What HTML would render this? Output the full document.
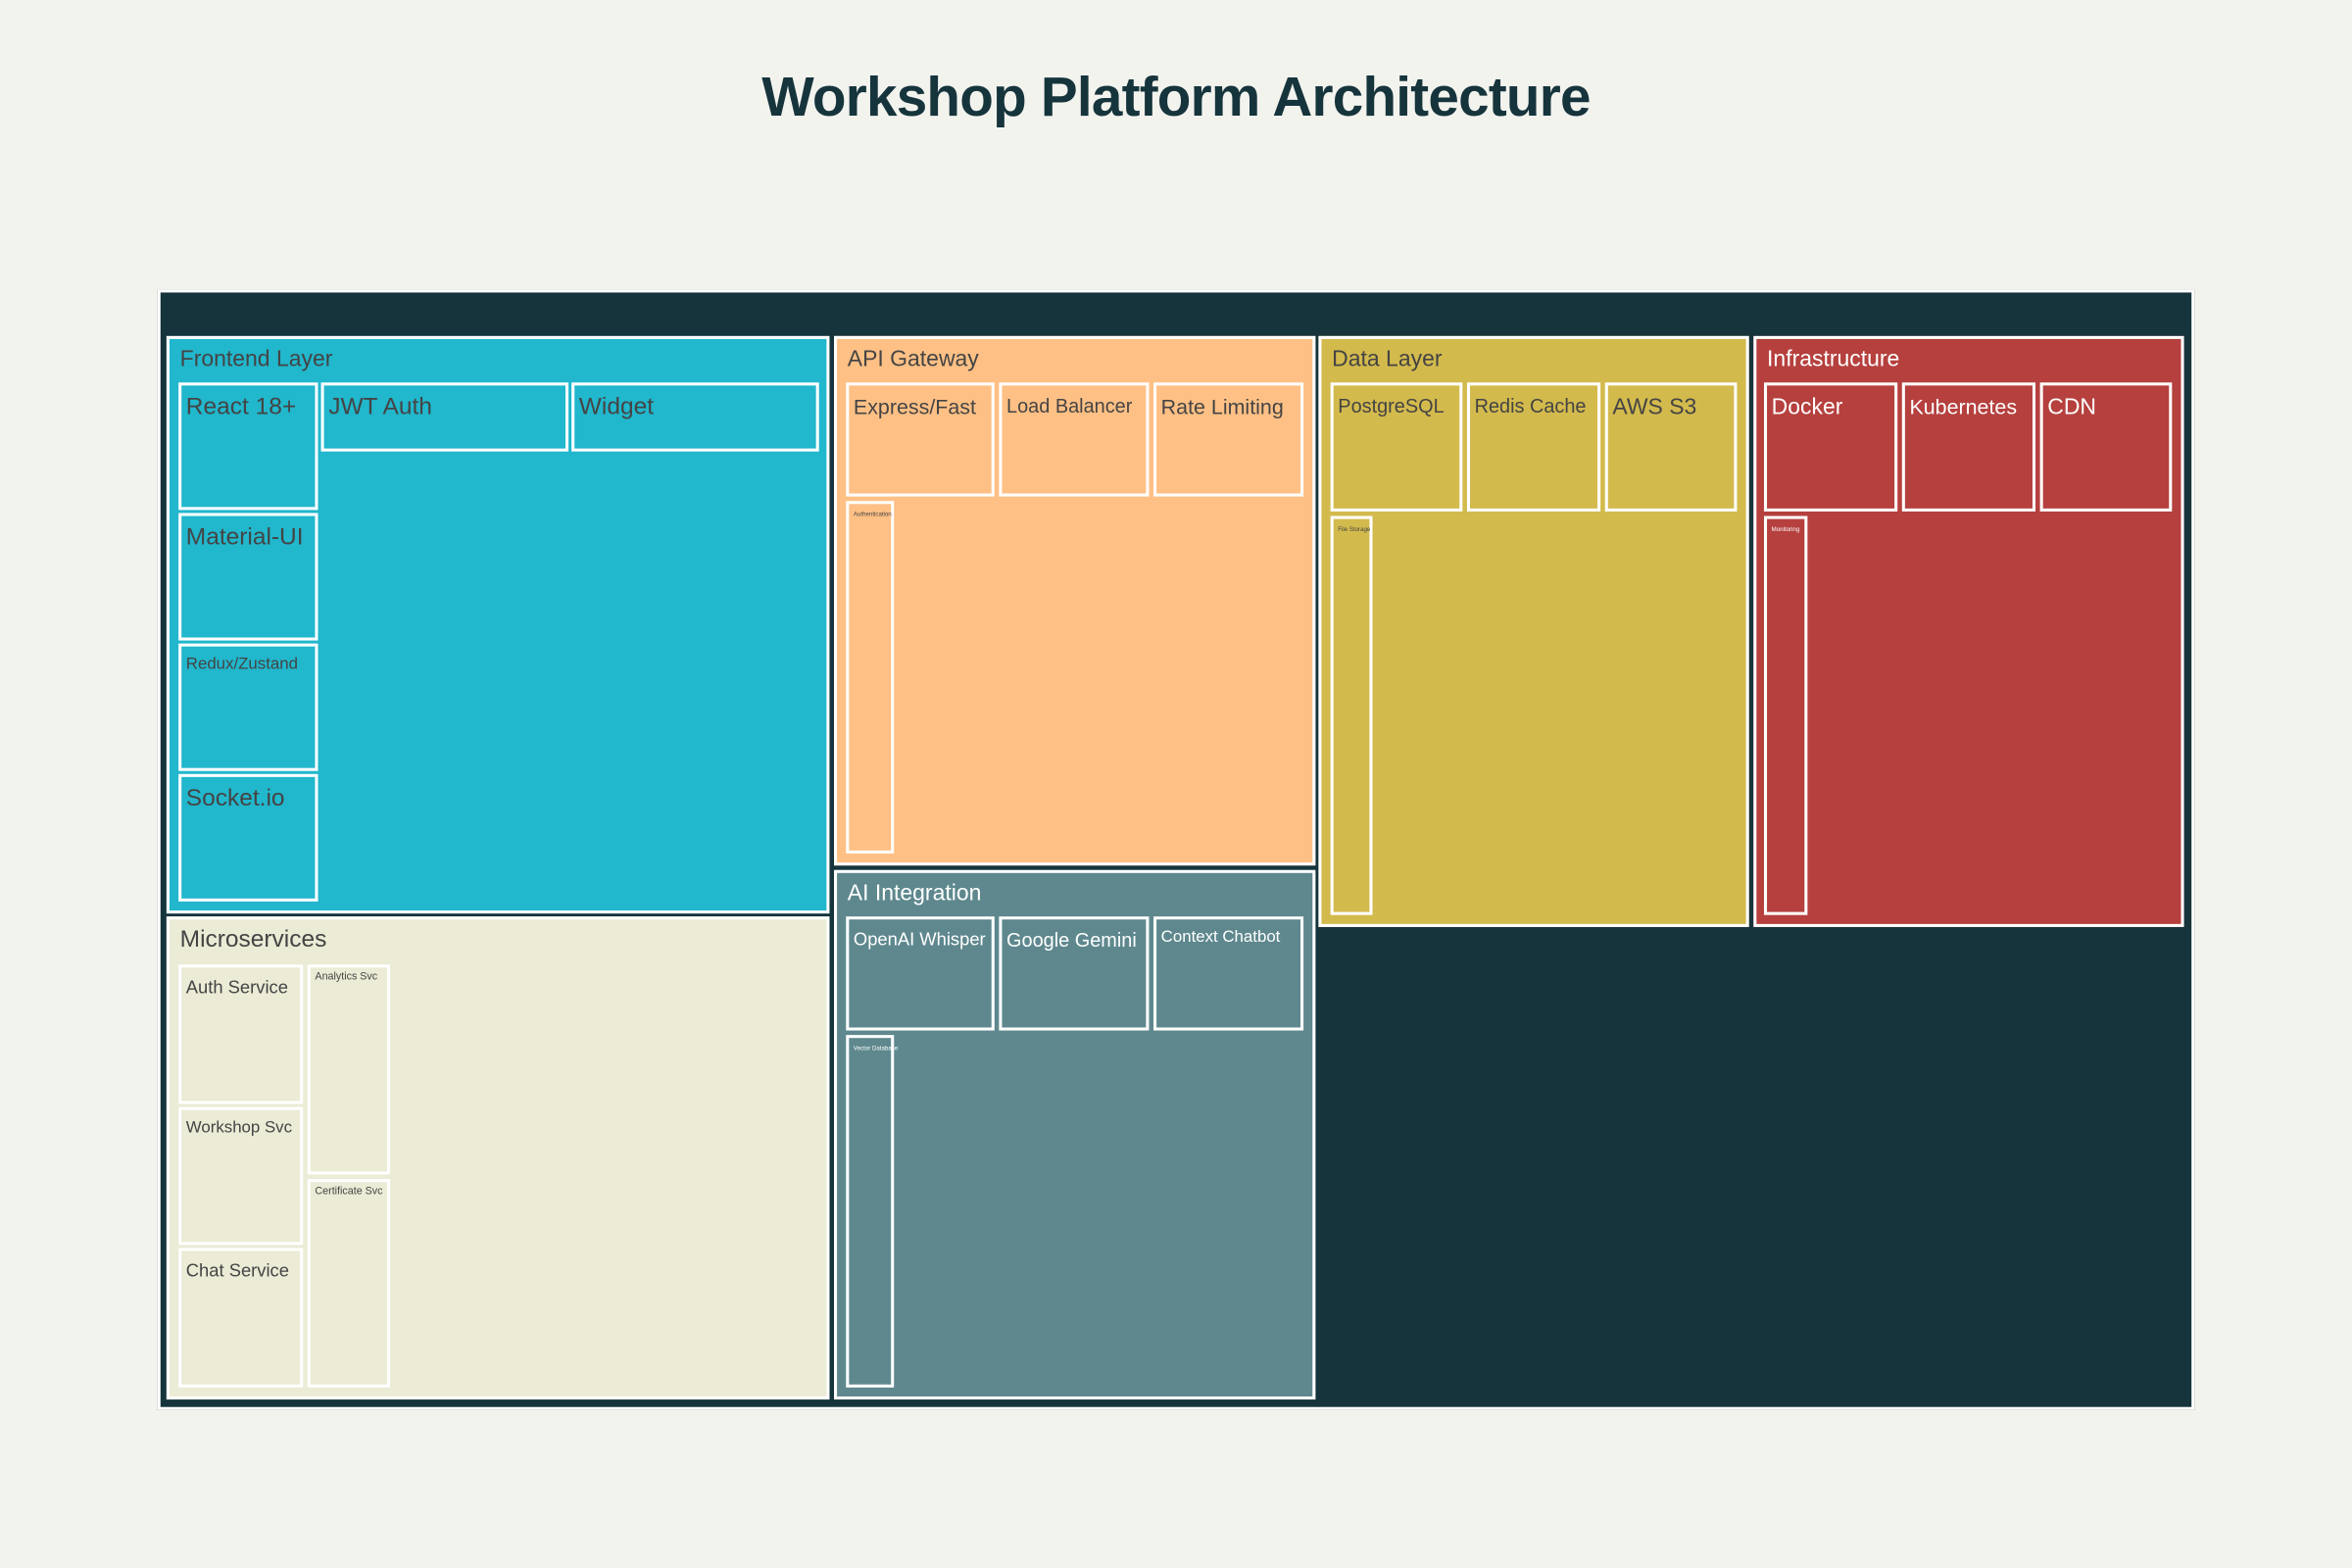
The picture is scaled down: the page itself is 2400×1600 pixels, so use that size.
<!DOCTYPE html>
<html><head><meta charset="utf-8"><style>
html,body{margin:0;padding:0;background:#f3f3ee;width:2400px;height:1600px;overflow:hidden}
#s{position:absolute;left:0;top:0;width:1568px;height:1045px;transform:scale(1.5306);transform-origin:0 0;font-family:"Liberation Sans",sans-serif}
.b{position:absolute;box-sizing:border-box;border:2px solid #fff}
.t{position:absolute;white-space:nowrap;color:#444}
.w .t{color:#fff}
h1{position:absolute;left:0;width:1568px;top:44px;margin:0;text-align:center;font-size:37px;color:#16343c;font-weight:bold;letter-spacing:-0.5px}
</style></head><body><div id="s">
<h1>Workshop Platform Architecture</h1>
<div class="b" style="left:105px;top:193px;width:1358px;height:747px;background:#16343c"></div>

<div id="c"></div>
</div>
<script>
const d=[
[111,224,553,609,'#21b7cd','Frontend Layer',15,0],
[119,255,212,340,'#21b7cd','React 18+',16,0],
[119,342,212,427,'#21b7cd','Material-UI',16,0],
[119,429,212,514,'#21b7cd','Redux/Zustand',11,0],
[119,516,212,601,'#21b7cd','Socket.io',16,0],
[214,255,379,301,'#21b7cd','JWT Auth',16,0],
[381,255,546,301,'#21b7cd','Widget',16,0],
[111,611,553,933,'#ebebd6','Microservices',16,0],
[119,643,202,736,'#ebebd6','Auth Service',12,0],
[119,738,202,830,'#ebebd6','Workshop Svc',11,0],
[119,832,202,925,'#ebebd6','Chat Service',12,0],
[205,643,260,783,'#ebebd6','Analytics Svc',7,0],
[205,786,260,925,'#ebebd6','Certificate Svc',7,0],
[556,224,877,577,'#ffc085','API Gateway',15,0],
[564,255,663,331,'#ffc085','Express/Fast',14,0],
[666,255,766,331,'#ffc085','Load Balancer',13,0],
[769,255,869,331,'#ffc085','Rate Limiting',14,0],
[564,334,596,569,'#ffc085','Authentication',4,0],
[556,580,877,933,'#5e888e','AI Integration',15,1],
[564,611,663,687,'#5e888e','OpenAI Whisper',12,1],
[666,611,766,687,'#5e888e','Google Gemini',13,1],
[769,611,869,687,'#5e888e','Context Chatbot',11,1],
[564,690,596,925,'#5e888e','Vector Database',4,1],
[879,224,1166,618,'#d3ba4d','Data Layer',15,0],
[887,255,975,341,'#d3ba4d','PostgreSQL',13,0],
[978,255,1067,341,'#d3ba4d','Redis Cache',13,0],
[1070,255,1158,341,'#d3ba4d','AWS S3',15,0],
[887,344,915,610,'#d3ba4d','File Storage',4,0],
[1169,224,1456,618,'#b5403e','Infrastructure',15,1],
[1176,255,1265,341,'#b5403e','Docker',15,1],
[1268,255,1357,341,'#b5403e','Kubernetes',14,1],
[1360,255,1448,341,'#b5403e','CDN',15,1],
[1176,344,1205,610,'#b5403e','Monitoring',4,1]];
let h='';
for(const [x1,y1,x2,y2,c,l,f,w] of d){
 const big=(y2-y1)>300;
 const top=f<=4?4:(f<=7?3:(big?5:6));
 const left=f<=7?3:(big?7:3);
 h+=`<div class="b${w?' w':''}" style="left:${x1}px;top:${y1}px;width:${x2-x1}px;height:${y2-y1}px;background:${c}"><span class="t" style="left:${left}px;top:${top}px;font-size:${f}px">${l}</span></div>`;
}
document.getElementById('c').innerHTML=h;
</script>
</body></html>
